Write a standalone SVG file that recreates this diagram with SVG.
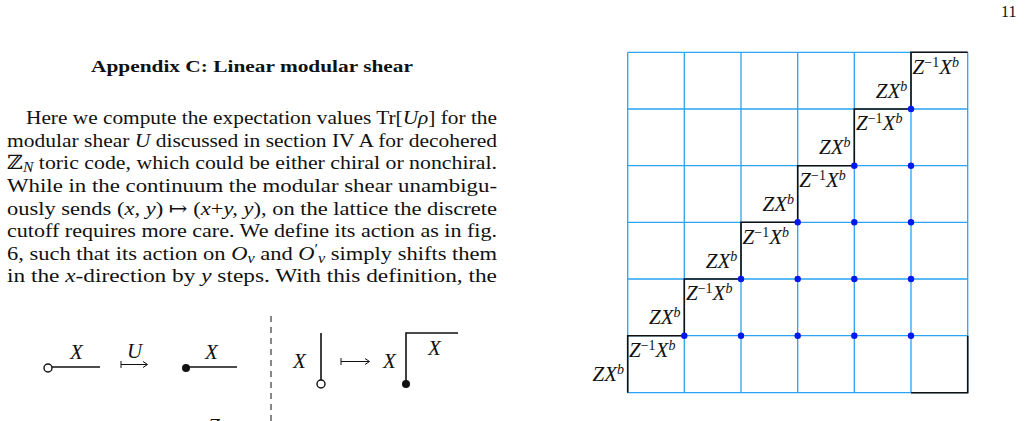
<svg xmlns="http://www.w3.org/2000/svg" width="1027" height="421" viewBox="0 0 1027 421">
<style>
text{font-family:"Liberation Serif","DejaVu Serif",serif;fill:#111}
.p{font-size:19.5px}
.i{font-style:italic}
.g{stroke:#2aa4f4;stroke-width:1.3;fill:none}
.k{stroke:#111;stroke-width:1.6;fill:none}
.a{stroke:#111;stroke-width:1;fill:none}
.d{fill:#0018f0}
.l{font-size:21px;font-style:italic}
.s{font-size:14px}
</style>
<rect width="1027" height="421" fill="#fff"/>
<text x="1001" y="17" font-size="16">11</text>
<text x="252" y="72" text-anchor="middle" font-weight="bold" font-size="16.5" textLength="322" lengthAdjust="spacingAndGlyphs">Appendix C: Linear modular shear</text>
<g class="p">
<text x="26" y="124" textLength="471" lengthAdjust="spacingAndGlyphs">Here we compute the expectation values Tr[<tspan class="i">Uρ</tspan>] for the</text>
<text x="7" y="147" textLength="490" lengthAdjust="spacingAndGlyphs">modular shear <tspan class="i">U</tspan> discussed in section IV A for decohered</text>
<text x="7" y="169" textLength="490" lengthAdjust="spacingAndGlyphs">ℤ<tspan class="s i" dy="3">N</tspan><tspan dy="-3"> toric code, which could be either chiral or nonchiral.</tspan></text>
<text x="7" y="192" textLength="490" lengthAdjust="spacingAndGlyphs">While in the continuum the modular shear unambigu-</text>
<text x="7" y="215" textLength="490" lengthAdjust="spacingAndGlyphs">ously sends (<tspan class="i">x, y</tspan>) ↦ (<tspan class="i">x</tspan>+<tspan class="i">y, y</tspan>), on the lattice the discrete</text>
<text x="7" y="237" textLength="490" lengthAdjust="spacingAndGlyphs">cutoff requires more care. We define its action as in fig.</text>
<text x="7" y="260" textLength="490" lengthAdjust="spacingAndGlyphs">6, such that its action on <tspan class="i">O</tspan><tspan class="s i" dy="3">v</tspan><tspan dy="-3"> and </tspan><tspan class="i">O</tspan><tspan class="s" dy="-6">′</tspan><tspan class="s i" dy="9">v</tspan><tspan dy="-3"> simply shifts them</tspan></text>
<text x="7" y="282" textLength="490" lengthAdjust="spacingAndGlyphs">in the <tspan class="i">x</tspan>-direction by <tspan class="i">y</tspan> steps. With this definition, the</text>
</g>
<g id="fig-left">
<circle cx="48" cy="368" r="4" fill="#fff" stroke="#111" stroke-width="1.4"/>
<line x1="52" y1="367" x2="100" y2="367" class="k"/>
<text x="70" y="359" class="l">X</text>
<text x="127" y="358" class="l">U</text>
<path class="a" d="M121 364.5H147M121 361V368M143 361.5L147.5 364.5L143 367.5"/>
<circle cx="186" cy="368" r="4" fill="#111"/>
<line x1="186" y1="367" x2="237" y2="367" class="k"/>
<text x="205" y="359" class="l">X</text>
<text x="208" y="433" class="l">Z</text>
<line x1="271" y1="316" x2="271" y2="421" stroke="#111" stroke-width="1" stroke-dasharray="6,5"/>
<text x="293" y="368" class="l">X</text>
<line x1="321" y1="333" x2="321" y2="380" class="k"/>
<circle cx="321" cy="384" r="4" fill="#fff" stroke="#111" stroke-width="1.4"/>
<path class="a" d="M341 361.5H369M341 358V365M365 358.5L369.5 361.5L365 364.5"/>
<text x="383" y="368" class="l">X</text>
<polyline points="406,384 406,333 458,333" class="k"/>
<circle cx="406" cy="384" r="4" fill="#111"/>
<text x="428" y="355" class="l">X</text>
</g>
<g id="grid">
<path class="g" d="M627.7 52.3V392.7M684.3 52.3V392.7M741 52.3V392.7M797.7 52.3V392.7M854.3 52.3V392.7M911 52.3V392.7M967.7 52.3V392.7M627.7 52.3H967.7M627.7 109H967.7M627.7 165.7H967.7M627.7 222.3H967.7M627.7 279H967.7M627.7 335.7H967.7M627.7 392.7H967.7"/>
</g>
<g id="connectors">
<polyline class="k" points="627.7,392.7 627.7,335.7 684.3,335.7 684.3,279 741,279 741,222.3 797.7,222.3 797.7,165.7 854.3,165.7 854.3,109 911,109 911,52.3 967.7,52.3"/>
<polyline class="k" points="911,392.7 967.7,392.7 967.7,335.7"/>
</g>
<g id="dots" class="d">
<circle cx="684.3" cy="335.7" r="3.2"/><circle cx="741" cy="335.7" r="3.2"/><circle cx="797.7" cy="335.7" r="3.2"/><circle cx="854.3" cy="335.7" r="3.2"/><circle cx="911" cy="335.7" r="3.2"/>
<circle cx="741" cy="279" r="3.2"/><circle cx="797.7" cy="279" r="3.2"/><circle cx="854.3" cy="279" r="3.2"/><circle cx="911" cy="279" r="3.2"/>
<circle cx="797.7" cy="222.3" r="3.2"/><circle cx="854.3" cy="222.3" r="3.2"/><circle cx="911" cy="222.3" r="3.2"/>
<circle cx="854.3" cy="165.7" r="3.2"/><circle cx="911" cy="165.7" r="3.2"/>
<circle cx="911" cy="109" r="3.2"/>
</g>
<g id="labels" class="l">
<text x="629" y="357">Z<tspan class="s" font-style="normal" dy="-7">−1</tspan><tspan dy="7">X</tspan><tspan class="s" dy="-7">b</tspan></text>
<text x="624" y="381" text-anchor="end">ZX<tspan class="s" dy="-7">b</tspan></text>
<text x="686" y="300.3">Z<tspan class="s" font-style="normal" dy="-7">−1</tspan><tspan dy="7">X</tspan><tspan class="s" dy="-7">b</tspan></text>
<text x="680.6" y="324.3" text-anchor="end">ZX<tspan class="s" dy="-7">b</tspan></text>
<text x="742.6" y="243.6">Z<tspan class="s" font-style="normal" dy="-7">−1</tspan><tspan dy="7">X</tspan><tspan class="s" dy="-7">b</tspan></text>
<text x="737.3" y="267.6" text-anchor="end">ZX<tspan class="s" dy="-7">b</tspan></text>
<text x="799.3" y="187">Z<tspan class="s" font-style="normal" dy="-7">−1</tspan><tspan dy="7">X</tspan><tspan class="s" dy="-7">b</tspan></text>
<text x="794" y="211" text-anchor="end">ZX<tspan class="s" dy="-7">b</tspan></text>
<text x="856" y="130.3">Z<tspan class="s" font-style="normal" dy="-7">−1</tspan><tspan dy="7">X</tspan><tspan class="s" dy="-7">b</tspan></text>
<text x="850.6" y="154.3" text-anchor="end">ZX<tspan class="s" dy="-7">b</tspan></text>
<text x="912.6" y="73.6">Z<tspan class="s" font-style="normal" dy="-7">−1</tspan><tspan dy="7">X</tspan><tspan class="s" dy="-7">b</tspan></text>
<text x="907.3" y="97.6" text-anchor="end">ZX<tspan class="s" dy="-7">b</tspan></text>
</g>
</svg>
